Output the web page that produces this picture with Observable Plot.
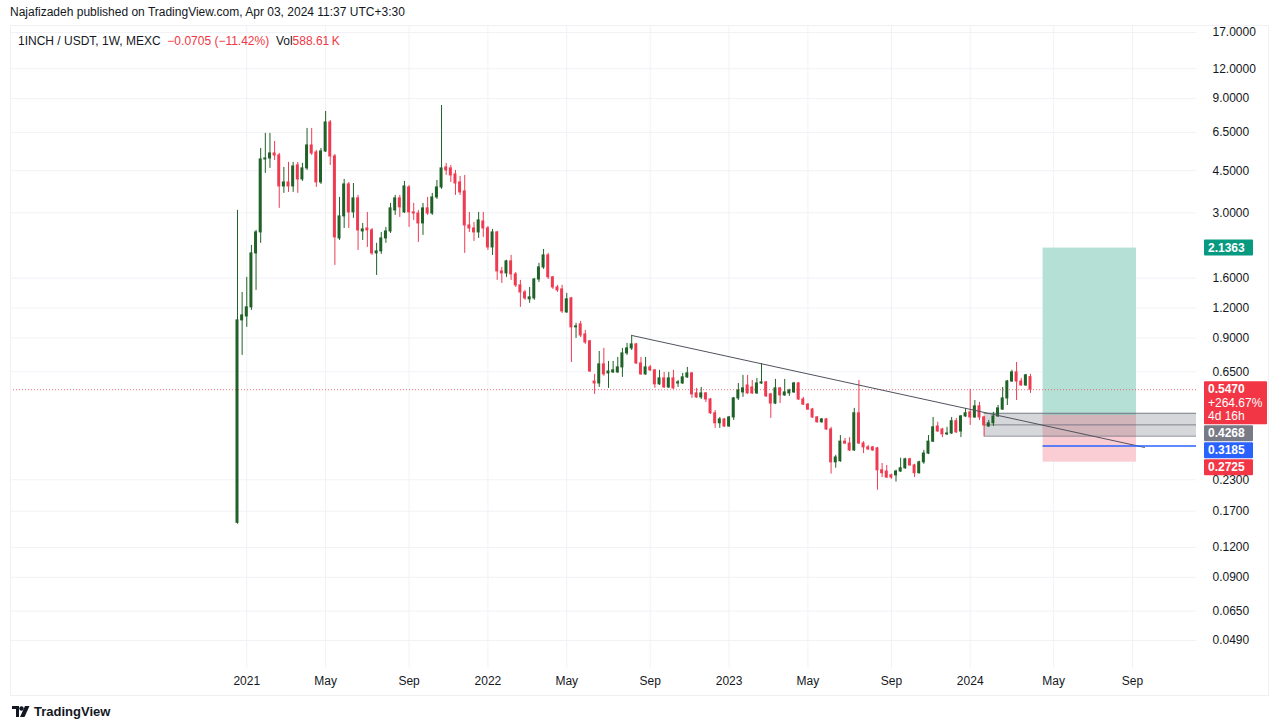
<!DOCTYPE html>
<html><head><meta charset="utf-8">
<script src="https://cdn.jsdelivr.net/npm/d3@7"></script>
<script src="https://cdn.jsdelivr.net/npm/@observablehq/plot@0.6"></script>
<style>
body{margin:0;background:#fff;font-family:"Liberation Sans",Arial,sans-serif;color:#131722;}
#wrap{position:relative;width:1280px;height:728px;overflow:hidden;}
#chart{position:absolute;left:0;top:0}
#frame{position:absolute;left:10px;top:25px;width:1259px;height:671px;border:1px solid #eef0f4;box-sizing:border-box;pointer-events:none}
#pub{position:absolute;left:10px;top:5px;font-size:12px;white-space:nowrap}
#sym{position:absolute;left:18px;top:34px;font-size:12px;white-space:nowrap}
.red{color:#f23645}
#foot{position:absolute;left:12px;top:704px;font-size:13px;font-weight:bold;display:flex;align-items:center;gap:4px;white-space:nowrap}
</style></head><body>
<div id="wrap">
<div id="chart"></div>
<div id="frame"></div>
<div id="pub">Najafizadeh published on TradingView.com, Apr 03, 2024 11:37 UTC+3:30</div>
<div id="sym">1INCH / USDT, 1W, MEXC&nbsp;&nbsp;<span class="red">−0.0705 (−11.42%)</span>&nbsp;&nbsp;Vol<span class="red">588.61&#8201;K</span></div>
<div id="foot"><svg width="18" height="11" viewBox="0 0 18 11"><path d="M0 0h7v11H4V3H0z" fill="#131722"/><circle cx="9.5" cy="2.5" r="2.2" fill="#131722"/><path d="M13 0h4.5L12.5 11H8z" fill="#131722"/></svg><span>TradingView</span></div>
</div>
<script>
// ---- data (weekly candles, 1INCH/USDT MEXC) ----
const firstWeek = "2020-12-21";
const lastWeek = "2024-04-01";
const open = [0.152,1.066,1.107,1.208,2.03,2.485,5.01,5.06,5.311,5.209,
3.866,4.018,3.866,4.732,4.136,4.6,5.735,5.362,4.018,5.414,
7.155,5.159,2.345,2.898,3.942,3.012,3.447,2.508,2.58,2.533,
2.03,2.069,2.345,2.508,3.07,3.447,3.012,3.829,3.012,2.98,
2.709,3.131,2.98,3.479,3.829,4.642,4.6,4.34,4.018,3.685,
2.657,2.581,2.484,2.761,2.581,2.15,2.484,1.707,1.675,1.88,
1.659,1.492,1.395,1.305,1.317,1.58,1.774,1.991,1.612,1.463,
1.436,1.151,1.317,0.997,1.026,0.931,0.871,0.592,0.581,0.698,
0.64,0.646,0.646,0.678,0.776,0.814,0.846,0.704,0.634,0.678,
0.659,0.576,0.61,0.559,0.61,0.581,0.581,0.616,0.64,0.528,
0.508,0.528,0.498,0.436,0.396,0.411,0.384,0.419,0.503,0.533,
0.57,0.559,0.528,0.581,0.587,0.523,0.479,0.554,0.518,0.528,
0.533,0.581,0.498,0.474,0.452,0.419,0.4,0.411,0.373,0.272,
0.275,0.332,0.326,0.305,0.436,0.326,0.314,0.314,0.311,0.252,
0.249,0.24,0.24,0.249,0.257,0.28,0.264,0.245,0.272,0.296,
0.332,0.384,0.373,0.356,0.359,0.404,0.366,0.423,0.44,0.419,
0.466,0.419,0.384,0.396,0.423,0.452,0.503,0.592,0.646,0.592,
0.57,0.6175];
const close = [1.066,1.118,1.208,2.03,2.485,5.013,5.06,5.311,5.209,3.866,
4.018,3.866,4.686,4.136,4.6,5.735,5.311,4.018,5.414,7.155,
5.159,2.368,2.898,3.942,3.012,3.447,2.533,2.557,2.533,2.03,
2.069,2.345,2.508,3.131,3.447,3.162,3.866,3.012,2.98,2.709,
3.131,2.98,3.479,3.829,4.6,4.51,4.298,3.977,3.65,2.657,
2.581,2.484,2.788,2.581,2.15,2.484,1.707,1.675,1.88,1.659,
1.492,1.395,1.317,1.33,1.58,1.774,1.991,1.612,1.463,1.422,
1.162,1.305,0.997,1.006,0.922,0.862,0.652,0.581,0.698,0.634,
0.652,0.659,0.678,0.776,0.814,0.846,0.704,0.634,0.678,0.659,
0.576,0.61,0.559,0.61,0.554,0.587,0.616,0.64,0.523,0.508,
0.528,0.498,0.436,0.396,0.411,0.384,0.419,0.503,0.543,0.554,
0.528,0.528,0.581,0.587,0.513,0.479,0.554,0.518,0.533,0.543,
0.581,0.498,0.474,0.452,0.419,0.4,0.411,0.373,0.272,0.285,
0.332,0.326,0.305,0.436,0.326,0.314,0.308,0.305,0.252,0.245,
0.235,0.235,0.249,0.257,0.28,0.264,0.245,0.272,0.296,0.332,
0.381,0.366,0.356,0.359,0.404,0.363,0.423,0.436,0.419,0.466,
0.419,0.388,0.396,0.423,0.457,0.503,0.592,0.646,0.592,0.57,
0.628,0.547];
const high = [3.07,1.395,1.612,2.192,2.533,5.573,6.44,6.44,5.96,5.31,
4.642,4.871,4.871,4.871,4.826,6.754,6.754,5.466,5.573,7.953,
7.294,5.26,3.479,4.136,4.018,3.977,3.546,2.709,3.011,2.58,
2.236,2.485,2.607,3.284,3.546,3.546,4.056,3.904,3.284,3.07,
3.284,3.479,3.617,4.096,8.426,4.826,4.732,4.51,4.257,4.298,
3.012,2.733,3.012,3.012,2.63,2.557,2.508,1.774,1.9,1.991,
1.69,1.566,1.422,1.463,1.596,1.845,2.109,2.03,1.627,1.492,
1.492,1.382,1.33,1.036,1.056,0.968,0.879,0.634,0.79,0.814,
0.718,0.718,0.746,0.814,0.854,0.922,0.854,0.746,0.746,0.691,
0.665,0.659,0.646,0.646,0.659,0.598,0.64,0.678,0.646,0.554,
0.559,0.533,0.503,0.448,0.419,0.415,0.423,0.508,0.581,0.628,
0.628,0.598,0.61,0.704,0.592,0.528,0.604,0.559,0.604,0.549,
0.587,0.587,0.508,0.479,0.457,0.423,0.415,0.415,0.381,0.291,
0.352,0.342,0.345,0.457,0.598,0.332,0.32,0.317,0.314,0.269,
0.264,0.243,0.252,0.283,0.283,0.283,0.267,0.275,0.305,0.352,
0.419,0.4,0.377,0.381,0.419,0.415,0.427,0.457,0.549,0.493,
0.484,0.423,0.407,0.44,0.47,0.559,0.598,0.659,0.711,0.61,
0.634,0.634];
const low = [0.15,0.761,0.997,1.173,1.422,2.236,4.384,4.6,4.965,3.131,
3.617,3.65,3.65,3.617,4.056,4.51,5.209,3.829,3.942,5.362,
4.732,1.809,2.3,2.581,2.581,2.844,2.089,2.3,2.15,1.991,
1.643,2.01,2.236,2.46,2.926,2.87,2.98,2.607,2.788,2.256,
2.414,2.926,2.926,3.413,3.758,4.298,4.018,3.546,3.546,2.03,
2.484,2.278,2.345,2.368,2.089,1.991,1.566,1.52,1.612,1.566,
1.463,1.208,1.292,1.256,1.292,1.536,1.741,1.58,1.436,1.395,
1.14,1.14,0.711,0.896,0.904,0.846,0.646,0.523,0.559,0.622,
0.554,0.64,0.64,0.616,0.761,0.798,0.698,0.628,0.628,0.652,
0.554,0.57,0.554,0.554,0.549,0.559,0.576,0.61,0.503,0.503,
0.498,0.484,0.431,0.377,0.377,0.381,0.381,0.407,0.493,0.508,
0.523,0.523,0.523,0.576,0.508,0.415,0.474,0.479,0.513,0.513,
0.528,0.493,0.47,0.448,0.415,0.396,0.396,0.37,0.243,0.257,
0.272,0.323,0.302,0.302,0.323,0.296,0.305,0.302,0.208,0.235,
0.233,0.231,0.225,0.247,0.254,0.262,0.235,0.243,0.267,0.293,
0.329,0.363,0.345,0.352,0.356,0.359,0.345,0.419,0.388,0.415,
0.407,0.349,0.381,0.384,0.419,0.448,0.47,0.587,0.493,0.565,
0.565,0.528];

// axis ticks
const priceTicks = [17,12,9,6.5,4.5,3,1.6,1.2,0.9,0.65,0.23,0.17,0.12,0.09,0.065,0.049];
const timeTickDates = ["2021-01-04","2021-05-03","2021-09-06","2022-01-03","2022-05-02","2022-09-05","2023-01-02","2023-05-01","2023-09-04","2024-01-01","2024-05-06","2024-09-02"];
const timeTickLabels = ["2021","May","Sep","2022","May","Sep","2023","May","Sep","2024","May","Sep"];

// drawings
const lastPrice = 0.547;
const positionDates = ["2024-04-20","2024-09-08"];
const positionTarget = 2.1363, positionEntry = 0.4268, positionStop = 0.2725;
const rayLevel = 0.3185;
const zoneStart = "2024-01-22";
const zoneLevels = [0.436, 0.390, 0.350];
const trendDates = ["2022-08-08","2024-09-20"];
const trendPrices = [0.922, 0.314];
const farDate = "2025-12-01";
const labelPct = "+264.67%", labelTime = "4d 16h";

// ---- build ----
const D = s => new Date(s + "T00:00:00Z");
const weeks = d3.utcMonday.range(D(firstWeek), d3.utcDay.offset(D(lastWeek), 1));
const candles = weeks.map((d, i) => ({date: d, open: open[i], high: high[i], low: low[i], close: close[i]}));
const ups = candles.filter(d => d.close >= d.open);
const downs = candles.filter(d => d.close < d.open);
const GREEN = "#1f6127", RED = "#ef3b52";
const half = 2.25 * 864e5;
const tickDates = timeTickDates.map(D);
const timeTicks = tickDates.map((d, i) => ({date: d, label: timeTickLabels[i]}));
const trend = trendDates.map((d, i) => ({date: D(d), price: trendPrices[i]}));
const FONT = "'Liberation Sans', Arial, sans-serif";

const chart = Plot.plot({
  width: 1280, height: 728,
  marginLeft: 10, marginRight: 84, marginTop: 25, marginBottom: 60,
  style: {fontFamily: FONT, fontSize: "12px", color: "#131722", background: "transparent"},
  x: {type: "utc", domain: [D(firstWeek), D(lastWeek)], range: [237, 1030], axis: null},
  y: {type: "log", domain: [0.049, 17], range: [640, 32], axis: null},
  marks: [
    Plot.ruleX(tickDates, {x: d => d, stroke: "#f0f2f6"}),
    Plot.ruleY(priceTicks, {y: d => d, stroke: "#f0f2f6"}),
    Plot.text(timeTicks, {x: "date", text: "label", frameAnchor: "bottom", dy: 13, lineAnchor: "middle", fontSize: 12, fill: "#131722"}),
    Plot.text(priceTicks, {y: d => d, text: d => d.toFixed(4), frameAnchor: "right", dx: 16, textAnchor: "start", fontSize: 12, fill: "#131722"}),
    // position tool
    Plot.rect([0], {x1: () => D(positionDates[0]), x2: () => D(positionDates[1]), y1: () => positionEntry, y2: () => positionTarget, fill: "#b5e0d6"}),
    Plot.rect([0], {x1: () => D(positionDates[0]), x2: () => D(positionDates[1]), y1: () => positionStop, y2: () => positionEntry, fill: "#f9cdd3"}),
    // gray zone
    Plot.rect([0], {x1: () => D(zoneStart), x2: () => D(farDate), y1: () => zoneLevels[2], y2: () => zoneLevels[0], fill: "#787b86", fillOpacity: 0.3, clip: true}),
    Plot.ruleY(zoneLevels, {x1: () => D(zoneStart), x2: () => D(farDate), stroke: "#6a6d78", strokeOpacity: 0.8, clip: true}),
    // last price line
    Plot.ruleY([lastPrice], {stroke: "#f23645", strokeDasharray: "1,2", strokeOpacity: 0.7}),
    // candles
    Plot.ruleX(ups, {x: "date", y1: "low", y2: "high", stroke: GREEN}),
    Plot.ruleX(downs, {x: "date", y1: "low", y2: "high", stroke: RED}),
    Plot.rect(ups, {x1: d => new Date(+d.date - half), x2: d => new Date(+d.date + half), y1: "open", y2: "close", fill: GREEN, insetTop: -0.5, insetBottom: -0.5}),
    Plot.rect(downs, {x1: d => new Date(+d.date - half), x2: d => new Date(+d.date + half), y1: "open", y2: "close", fill: RED, insetTop: -0.5, insetBottom: -0.5}),
    // trend line and ray
    Plot.line(trend, {x: "date", y: "price", stroke: "#50535e", strokeWidth: 1}),
    Plot.ruleY([rayLevel], {x1: () => D(positionDates[0]), x2: () => D(farDate), stroke: "#2962ff", strokeWidth: 1.5, clip: true})
  ]
});
document.getElementById("chart").appendChild(chart);

// price labels on the right scale
const yS = chart.scale("y");
const svg = d3.select(chart);
const labels = [
  {v: positionTarget, lines: [positionTarget.toFixed(4)], fill: "#089981", w: 49},
  {v: lastPrice, lines: [lastPrice.toFixed(4), labelPct, labelTime], fill: "#f23645", w: 63},
  {v: positionEntry, lines: [positionEntry.toFixed(4)], fill: "#787b86", w: 49},
  {v: rayLevel, lines: [rayLevel.toFixed(4)], fill: "#2962ff", w: 49},
  {v: positionStop, lines: [positionStop.toFixed(4)], fill: "#f23645", w: 49}
];
let prevBottom = -Infinity;
for (const L of labels) {
  const h = 16 + (L.lines.length - 1) * 13.5;
  let top = Math.max(yS.apply(L.v) - 8, prevBottom + 1);
  prevBottom = top + h;
  const g = svg.append("g").attr("text-anchor", "start");
  g.append("rect").attr("x", 1204).attr("y", top).attr("width", L.w).attr("height", h).attr("rx", 1).attr("fill", L.fill);
  L.lines.forEach((t, i) => {
    g.append("text").attr("x", 1208).attr("y", top + 8 + i * 13.5).attr("dy", "0.35em")
      .attr("text-anchor", "start")
      .attr("fill", "#fff").attr("font-size", 12).attr("font-weight", i === 0 ? 600 : 400)
      .attr("font-family", FONT).text(t);
  });
}
</script>
</body></html>
